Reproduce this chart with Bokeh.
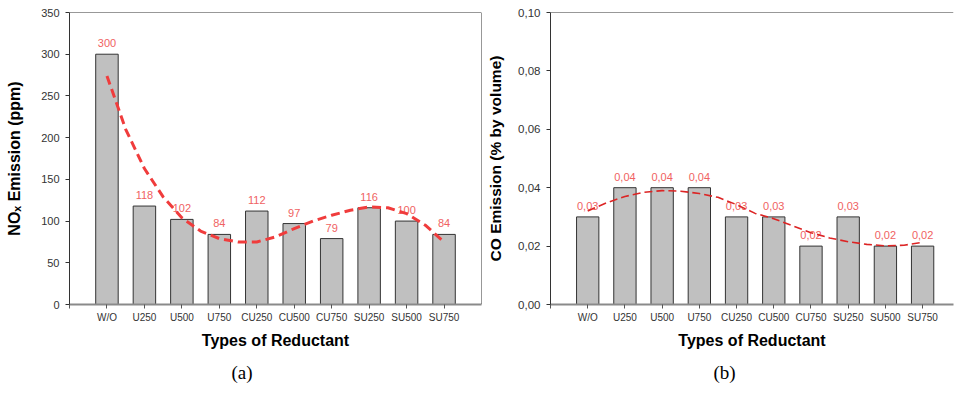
from bokeh.plotting import figure
from bokeh.layouts import row
from bokeh.models import ColumnDataSource, FixedTicker, Span, Title, CustomJSTickFormatter
from bokeh.core.properties import value
from bokeh.embed import file_html
from bokeh.resources import INLINE

# ---------------- data ----------------
categories = ["W/O", "U250", "U500", "U750", "CU250", "CU500", "CU750", "SU250", "SU500", "SU750"]
nox_ppm = [300, 118, 102, 84, 112, 97, 79, 116, 100, 84]
co_pct = [0.03, 0.04, 0.04, 0.04, 0.03, 0.03, 0.02, 0.03, 0.02, 0.02]

# dashed trend curves at half-category steps
trend_pos = [0, 0.5, 1, 1.5, 2, 2.5, 3, 3.5, 4, 4.5, 5, 5.5, 6, 6.5, 7, 7.5, 8, 8.5, 9]
nox_trend = [274, 210, 163, 129, 104, 88, 79, 75, 75, 81, 91, 100, 107, 113, 117, 116, 109, 95, 75]
co_trend = [0.0320, 0.0348, 0.0370, 0.0384, 0.0390, 0.0388, 0.0380, 0.0367, 0.0342, 0.0312,
            0.0294, 0.0270, 0.0246, 0.0228, 0.0215, 0.0206, 0.0201, 0.0203, 0.0213]

nox_ticks = [0, 50, 100, 150, 200, 250, 300, 350]
co_ticks = [0.0, 0.02, 0.04, 0.06, 0.08, 0.10]

x_title = "Types of Reductant"
nox_title = "NO\u2093 Emission (ppm)"
co_title = "CO Emission (% by volume)"

FONT = "Liberation Sans"
BAR_FILL = "#c0c0c0"
DARK = "#333333"
LABEL_RED = "#f06262"
H = 393


def base_figure(width, x_end, y_end, left_border, right_border, top_border, bottom_border):
    p = figure(width=width, height=H, x_range=(-1, x_end), y_range=(0, y_end),
               output_backend="svg", toolbar_location=None,
               min_border_left=left_border, min_border_right=right_border,
               min_border_top=top_border, min_border_bottom=bottom_border)
    p.title.visible = False
    p.outline_line_color = None
    p.background_fill_color = "white"
    p.border_fill_color = "white"
    p.xgrid.visible = False
    p.ygrid.visible = False

    idx = list(range(len(categories)))
    p.xaxis.ticker = FixedTicker(ticks=[-1] + idx)
    overrides = {i: c for i, c in zip(idx, categories)}
    overrides[-1] = ""
    p.xaxis.major_label_overrides = overrides
    p.xaxis.axis_line_color = "#8a8a8a"
    p.xaxis.axis_line_width = 2
    p.xaxis.major_tick_in = 0
    p.xaxis.major_tick_out = 4
    p.xaxis.major_tick_line_color = "#555555"
    p.xaxis.minor_tick_line_color = None
    p.xaxis.major_label_text_font = FONT
    p.xaxis.major_label_text_font_size = "10px"
    p.xaxis.major_label_text_color = DARK
    p.xaxis.major_label_standoff = 3
    p.xaxis.axis_label = x_title
    p.xaxis.axis_label_text_font = FONT
    p.xaxis.axis_label_text_font_style = "bold"
    p.xaxis.axis_label_text_font_size = "16px"
    p.xaxis.axis_label_text_color = "black"
    p.xaxis.axis_label_standoff = 6

    p.yaxis.axis_line_color = DARK
    p.yaxis.major_tick_in = 0
    p.yaxis.major_tick_out = 4
    p.yaxis.major_tick_line_color = DARK
    p.yaxis.minor_tick_line_color = None
    p.yaxis.major_label_text_font = FONT
    p.yaxis.major_label_text_color = DARK
    p.yaxis.major_label_standoff = 6
    p.yaxis.axis_label_text_font = FONT
    p.yaxis.axis_label_text_font_style = "bold"
    p.yaxis.axis_label_text_color = "black"
    return p


def add_common(p, values, labels, trend, trend_color, trend_width, trend_dash, y_end):
    idx = list(range(len(categories)))
    src = ColumnDataSource(dict(x=idx, top=values, label=labels))
    p.vbar(x="x", top="top", bottom=0, width=0.6, source=src,
           fill_color=BAR_FILL, line_color=DARK, line_width=1)
    p.text(x="x", y="top", text="label", source=src, text_align="center",
           text_baseline="bottom", y_offset=-7, text_font=value(FONT),
           text_font_size="11px", text_color=LABEL_RED)
    p.line(trend_pos, trend, line_color=trend_color, line_width=trend_width,
           line_dash=trend_dash)
    p.add_layout(Span(location=y_end, dimension="width", line_color=DARK, line_width=1))


def add_caption(p, text, offset):
    p.add_layout(Title(text=text, align="left", offset=offset, standoff=16,
                       text_font="Liberation Serif", text_font_style="normal",
                       text_font_size="19px", text_color="black"), "below")


# ---------------- panel (a) ----------------
p1 = base_figure(484, 10, 350, 69, 3, 9, H - 304)
p1.yaxis.ticker = FixedTicker(ticks=nox_ticks)
p1.yaxis.major_label_text_font_size = "11px"
p1.yaxis.axis_label = nox_title
p1.yaxis.axis_label_text_font_size = "16px"
p1.yaxis.axis_label_standoff = 15
add_common(p1, nox_ppm, [str(v) for v in nox_ppm], nox_trend, "#f03c3c", 3, "9 5", 350)
p1.add_layout(Span(location=10, dimension="height", line_color=DARK, line_width=1))
add_caption(p1, "(a)", 162)

# ---------------- panel (b) ----------------
p2 = base_figure(470, 9.83, 0.10, 64, 1, 12, H - 305)
p2.yaxis.ticker = FixedTicker(ticks=co_ticks)
p2.yaxis.formatter = CustomJSTickFormatter(code="return tick.toFixed(2).replace('.', ',');")
p2.yaxis.major_label_text_font_size = "11.5px"
p2.yaxis.axis_label = co_title
p2.yaxis.axis_label_text_font_size = "15.5px"
p2.yaxis.axis_label_standoff = 11
add_common(p2, co_pct, [f"{v:.2f}".replace(".", ",") for v in co_pct], co_trend,
           "#dc2424", 1.6, "8 4", 0.10)
add_caption(p2, "(b)", 163)

layout = row(p1, p2, spacing=0)
open("out.html", "w").write(file_html(layout, INLINE))
